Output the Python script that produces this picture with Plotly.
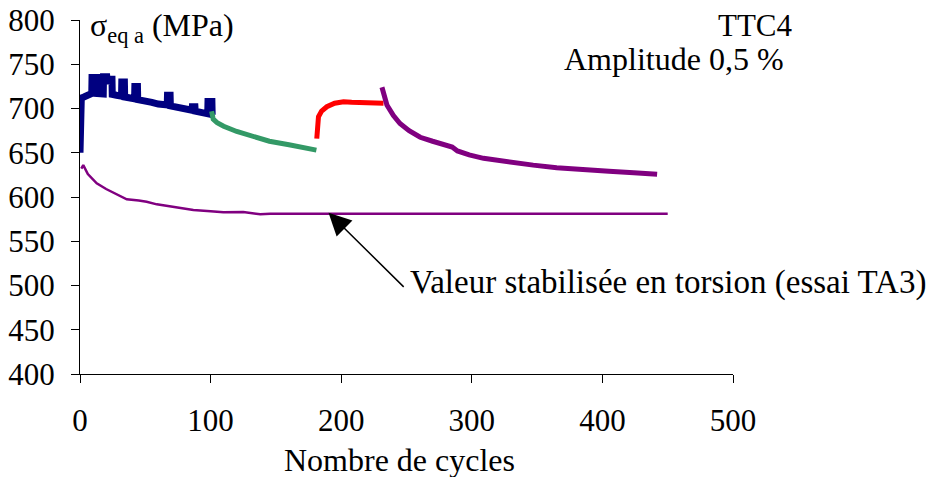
import plotly.graph_objects as go

# Blue series (cycles 0-100)
blue_x = [0, 0.5, 1, 3, 5, 8, 9, 9.2, 12.8, 13, 15, 17.8, 18, 20.5, 21, 22, 24.5, 24.7, 28, 31.8, 32, 34, 34.2,
          38, 41.8, 42, 44, 44.2, 50, 55, 60, 66.8, 67, 69, 69.2, 75, 80, 85.8, 86, 88, 88.2, 92, 96, 97.8, 98, 101, 101.2]
blue_y = [650, 705, 712, 713, 714, 716, 717, 735, 735, 717, 717, 716.5, 736, 736, 728, 733, 733, 716, 715, 714, 730, 730, 713,
          712, 711, 725, 725, 710, 709, 707, 705, 704, 715, 715, 703, 701, 699, 698, 702, 702, 697, 696, 695, 694, 708, 708, 693]

# Green series (cycles 100-181)
green_x = [100.8, 102, 105, 110, 120, 135, 145, 160, 170, 181]
green_y = [697, 688, 684, 680, 674, 667, 663, 659, 656, 653]

# Red series (cycles 181-232)
red_x = [181.3, 182, 182.6, 185, 189, 195, 201.8, 208, 214.6, 222, 232.4]
red_y = [666, 682, 690.7, 697, 702, 706, 707.7, 707, 706.5, 706, 706]

# Purple series (cycles 231-442)
purple_x = [231.2, 233, 235, 240, 245, 252, 260.5, 270, 281, 285, 289, 298, 309, 325, 347, 365, 385.7, 405, 424, 441.9]
purple_y = [724, 712, 704, 692, 683, 675, 667.5, 663, 658.5, 656.5, 652, 647.5, 643.7, 640, 636, 633, 630.5, 629, 627.5, 625.7]

# Torsion reference (essai TA3)
ref_x = [1, 2.5, 6, 12.8, 20, 28, 35.8, 45, 51, 58.8, 70, 86.8, 100, 109.8, 125, 138, 145.6, 200, 300, 400, 450]
ref_y = [632, 636, 626, 615.5, 609, 603, 597.4, 596, 594.7, 591.7, 589, 585.3, 584, 582.7, 583, 580.5, 581, 581, 581, 581, 581]

x_ticks = [0, 100, 200, 300, 400, 500]
y_ticks = [400, 450, 500, 550, 600, 650, 700, 750, 800]

FONT = "Liberation Serif"


def f(size):
    return dict(family=FONT, size=size, color="black")


fig = go.Figure()
fig.add_trace(go.Scatter(x=ref_x, y=ref_y, mode="lines", line=dict(color="#800080", width=2.5), showlegend=False))
fig.add_trace(go.Scatter(x=blue_x, y=blue_y, mode="lines", line=dict(color="#000080", width=7), showlegend=False))
fig.add_trace(go.Scatter(x=green_x, y=green_y, mode="lines", line=dict(color="#339966", width=5), showlegend=False))
fig.add_trace(go.Scatter(x=red_x, y=red_y, mode="lines", line=dict(color="#FF0000", width=5), showlegend=False))
fig.add_trace(go.Scatter(x=purple_x, y=purple_y, mode="lines", line=dict(color="#800080", width=5), showlegend=False))

fig.update_layout(
    width=926, height=477,
    margin=dict(l=80, r=193, t=20, b=103),
    plot_bgcolor="white", paper_bgcolor="white",
    font=f(31),
    showlegend=False,
)
fig.update_xaxes(range=[0, 500], tickvals=x_ticks, ticks="outside", ticklen=8, tickcolor="black",
                 showline=True, linecolor="black", linewidth=1, showgrid=False, zeroline=False,
                 tickfont=f(31), ticklabelstandoff=11, automargin=False)
fig.update_yaxes(range=[400, 800], tickvals=y_ticks, ticks="outside", ticklen=8, tickcolor="black",
                 showline=True, linecolor="black", linewidth=1, showgrid=False, zeroline=False,
                 tickfont=f(31), ticklabelstandoff=10, automargin=False)

fig.add_annotation(xref="paper", yref="paper", x=(399 - 80) / 653, y=(374 - 460) / 354,
                   xanchor="center", yanchor="middle",
                   text="Nombre de cycles", showarrow=False, font=f(32))
fig.add_annotation(xref="paper", yref="paper", x=0.012, y=0.98, xanchor="left", yanchor="middle",
                   text="σ<sub>eq a</sub> (MPa)", showarrow=False, font=f(32))
fig.add_annotation(xref="paper", yref="paper", x=(795 - 80) / 653, y=(374 - 25) / 354, xanchor="right", yanchor="middle",
                   text="TTC4", showarrow=False, font=f(31))
fig.add_annotation(xref="paper", yref="paper", x=(562 - 80) / 653, y=(374 - 59) / 354, xanchor="left", yanchor="middle",
                   text="Amplitude 0,5 %", showarrow=False, font=f(32))
fig.add_annotation(x=190.3, y=582.3, ax=249, ay=496.8, xref="x", yref="y", axref="x", ayref="y",
                   text="", showarrow=True, arrowhead=2, arrowsize=3, arrowwidth=1.5, arrowcolor="black")
fig.add_annotation(xref="paper", yref="y", x=(408 - 80) / 653, y=503, xanchor="left", yanchor="middle",
                   text="Valeur stabilisée en torsion (essai TA3)", showarrow=False, font=f(33))

fig.write_html("out.html", config={"displayModeBar": False},
               post_script="document.body.style.margin='0';document.body.style.overflow='hidden';")
